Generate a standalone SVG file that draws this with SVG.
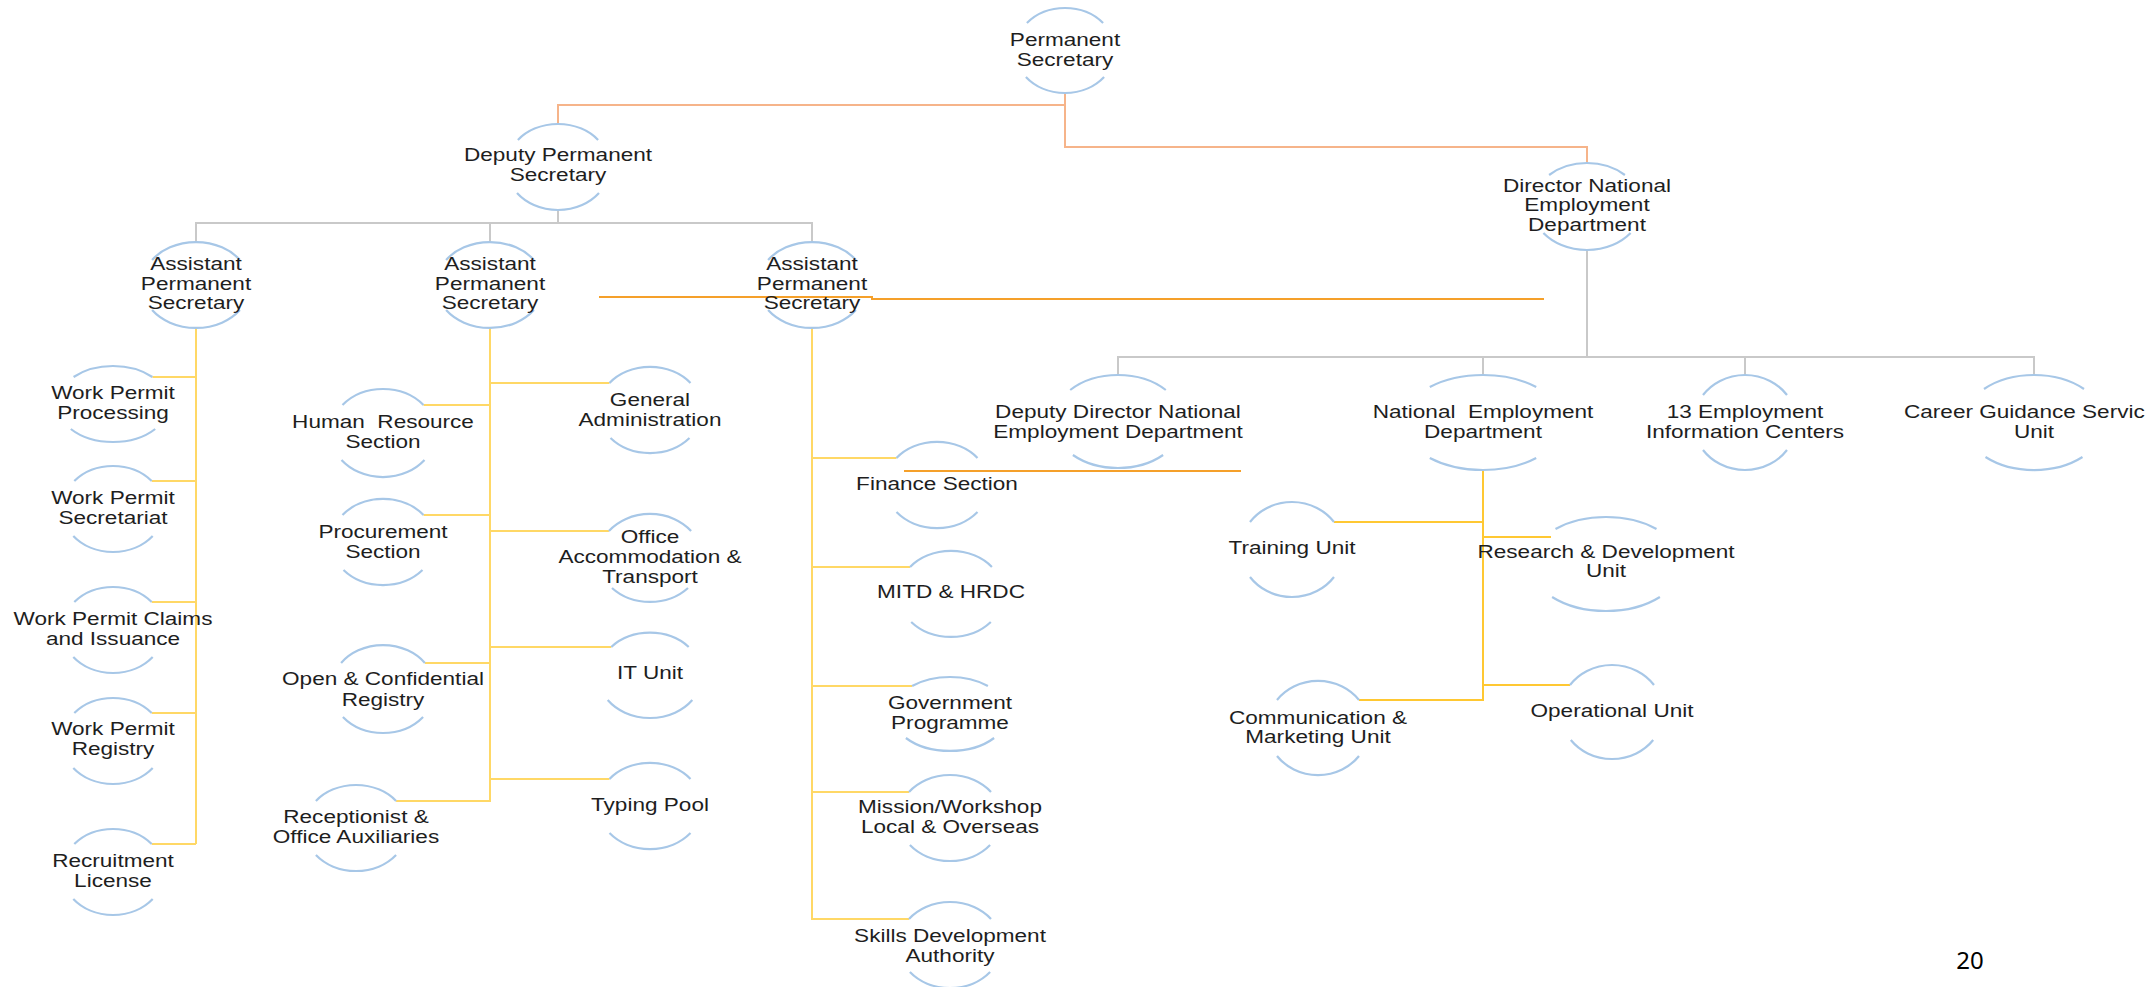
<svg xmlns="http://www.w3.org/2000/svg" width="2150" height="987" viewBox="0 0 2150 987">
<style>
.arc{fill:none;stroke:#a7c7e7;stroke-width:2.2}
.c{fill:none;stroke-width:2}
.or{stroke:#f6b48a}
.gr{stroke:#c9c9c9}
.ye{stroke:#ffd866}
.ye2{stroke:#ffc832}
.st{stroke:#f5a02a}
.t{font-family:"Liberation Sans",Arial,sans-serif;font-size:18.5px;fill:#1e1e1e;text-anchor:middle}
.ts{font-family:"Liberation Sans",Arial,sans-serif;font-size:18.5px;fill:#1e1e1e;text-anchor:start}
.num{font-family:"Noto Sans",sans-serif;font-size:24px;fill:#000;text-anchor:middle}
</style>
<rect width="2150" height="987" fill="#fff"/>
<g id="connectors">
<path class="c or" d="M1065,93 V147 H1587 V163 M1065,105 H558 V124"/>
<path class="c gr" d="M558,210 V223 M196,241 V223 H812 V241 M490,223 V241 M1587,250 V357 M1118,375 V357 H2034 V375 M1483,357 V375 M1745,357 V375"/>
<path class="c ye" d="M196,328 V844 M152.4,377 H196 M151.7,481 H196 M151.7,602 H196 M151.7,713 H196 M151.7,844 H196"/>
<path class="c ye" d="M490,328 V801 H396.1 M423.5,405 H490 M423.5,515 H490 M424.9,663 H490 M490,383 H609.5 M490,531 H608.9 M490,647 H611.3 M490,779 H609.5"/>
<path class="c ye" d="M812,328 V919 H909 M812,458 H896.5 M812,567 H910.1 M812,686 H912.1 M812,792 H909"/>
<path class="c ye2" d="M1483,470 V700 H1359 M1334,522 H1483 M1483,537 H1551 M1483,685 H1570"/>
<path class="c st" d="M599,297 H872 V299 H1544 M904,471 H1241"/>
</g>
<g id="n-ps"><path class="arc" d="M1026.9,23 A50,42.5 0 0 1 1103.1,23 M1025.9,77 A50,42.5 0 0 0 1104.1,77"/>
<text class="t" transform="translate(1065 0) scale(1.22 1)"><tspan x="0" y="46">Permanent</tspan><tspan x="0" y="66">Secretary</tspan></text></g>
<g id="n-dps"><path class="arc" d="M517.9,140 A51.5,43 0 0 1 598.1,140 M517,193 A51.5,43 0 0 0 599,193"/>
<text class="t" transform="translate(558 0) scale(1.22 1)"><tspan x="0" y="161">Deputy Permanent</tspan><tspan x="0" y="181">Secretary</tspan></text></g>
<g id="n-aps1"><path class="arc" d="M152.1,260 A54,43 0 0 1 239.9,260 M152.1,310 A54,43 0 0 0 239.9,310"/>
<text class="t" transform="translate(196 0) scale(1.22 1)"><tspan x="0" y="270">Assistant</tspan><tspan x="0" y="290">Permanent</tspan><tspan x="0" y="309">Secretary</tspan></text></g>
<g id="n-aps2"><path class="arc" d="M446.1,260 A54,43 0 0 1 533.9,260 M446.1,310 A54,43 0 0 0 533.9,310"/>
<text class="t" transform="translate(490 0) scale(1.22 1)"><tspan x="0" y="270">Assistant</tspan><tspan x="0" y="290">Permanent</tspan><tspan x="0" y="309">Secretary</tspan></text></g>
<g id="n-aps3"><path class="arc" d="M768.1,260 A54,43 0 0 1 855.9,260 M768.1,310 A54,43 0 0 0 855.9,310"/>
<text class="t" transform="translate(812 0) scale(1.22 1)"><tspan x="0" y="270">Assistant</tspan><tspan x="0" y="290">Permanent</tspan><tspan x="0" y="309">Secretary</tspan></text></g>
<g id="n-dned"><path class="arc" d="M1549.1,175 A55,43.5 0 0 1 1624.9,175 M1543.4,233 A55,43.5 0 0 0 1630.6,233"/>
<text class="t" transform="translate(1587 0) scale(1.22 1)"><tspan x="0" y="192">Director National</tspan><tspan x="0" y="211.5">Employment</tspan><tspan x="0" y="231">Department</tspan></text></g>
<g id="n-ddned"><path class="arc" d="M1070.2,390 A65,46.5 0 0 1 1165.8,390 M1072.9,455 A65,46.5 0 0 0 1163.1,455"/>
<text class="t" transform="translate(1118 0) scale(1.22 1)"><tspan x="0" y="418">Deputy Director National</tspan><tspan x="0" y="438">Employment Department</tspan></text></g>
<g id="n-ned"><path class="arc" d="M1429.8,387 A80,47.5 0 0 1 1536.2,387 M1429.8,458 A80,47.5 0 0 0 1536.2,458"/>
<text class="t" xml:space="preserve" transform="translate(1483 0) scale(1.22 1)"><tspan x="0" y="418">National  Employment</tspan><tspan x="0" y="438">Department</tspan></text></g>
<g id="n-eic"><path class="arc" d="M1703,395 A51.5,47.5 0 0 1 1787,395 M1703,450 A51.5,47.5 0 0 0 1787,450"/>
<text class="t" transform="translate(1745 0) scale(1.22 1)"><tspan x="0" y="418">13 Employment</tspan><tspan x="0" y="438">Information Centers</tspan></text></g>
<g id="n-cgsu"><path class="arc" d="M1984,389 A70.5,47.5 0 0 1 2084,389 M1985.5,457 A70.5,47.5 0 0 0 2082.5,457"/>
<text class="ts" transform="translate(1904 0) scale(1.22 1)"><tspan x="0" y="418">Career Guidance Servic</tspan></text>
<text class="t" transform="translate(2034 0) scale(1.22 1)"><tspan x="0" y="438">Unit</tspan></text></g>
<g id="n-wpp"><path class="arc" d="M73.6,377 A56,38 0 0 1 152.4,377 M70.8,429 A56,38 0 0 0 155.2,429"/>
<text class="t" transform="translate(113 0) scale(1.22 1)"><tspan x="0" y="399">Work Permit</tspan><tspan x="0" y="419">Processing</tspan></text></g>
<g id="n-wps"><path class="arc" d="M74.3,481 A51,43 0 0 1 151.7,481 M73.3,536 A51,43 0 0 0 152.7,536"/>
<text class="t" transform="translate(113 0) scale(1.22 1)"><tspan x="0" y="504">Work Permit</tspan><tspan x="0" y="524">Secretariat</tspan></text></g>
<g id="n-wpci"><path class="arc" d="M74.3,602 A51,43 0 0 1 151.7,602 M73.3,657 A51,43 0 0 0 152.7,657"/>
<text class="t" transform="translate(113 0) scale(1.22 1)"><tspan x="0" y="625">Work Permit Claims</tspan><tspan x="0" y="645">and Issuance</tspan></text></g>
<g id="n-wpr"><path class="arc" d="M74.3,713 A51,43 0 0 1 151.7,713 M73.3,768 A51,43 0 0 0 152.7,768"/>
<text class="t" transform="translate(113 0) scale(1.22 1)"><tspan x="0" y="735">Work Permit</tspan><tspan x="0" y="755">Registry</tspan></text></g>
<g id="n-rl"><path class="arc" d="M74.3,844 A51,43 0 0 1 151.7,844 M73.3,899 A51,43 0 0 0 152.7,899"/>
<text class="t" transform="translate(113 0) scale(1.22 1)"><tspan x="0" y="867">Recruitment</tspan><tspan x="0" y="887">License</tspan></text></g>
<g id="n-hrs"><path class="arc" d="M342.5,405 A52.5,44 0 0 1 423.5,405 M341.5,460 A52.5,44 0 0 0 424.5,460"/>
<text class="t" xml:space="preserve" transform="translate(383 0) scale(1.22 1)"><tspan x="0" y="428">Human  Resource</tspan><tspan x="0" y="448">Section</tspan></text></g>
<g id="n-prs"><path class="arc" d="M342.5,515 A52,43 0 0 1 423.5,515 M343.5,570 A52,43 0 0 0 422.5,570"/>
<text class="t" transform="translate(383 0) scale(1.22 1)"><tspan x="0" y="538">Procurement</tspan><tspan x="0" y="558">Section</tspan></text></g>
<g id="n-ocr"><path class="arc" d="M341.1,663 A52,44 0 0 1 424.9,663 M342.9,717 A52,44 0 0 0 423.1,717"/>
<text class="t" transform="translate(383 0) scale(1.22 1)"><tspan x="0" y="685">Open &amp; Confidential</tspan><tspan x="0" y="706">Registry</tspan></text></g>
<g id="n-roa"><path class="arc" d="M315.9,801 A51.5,43 0 0 1 396.1,801 M315.9,855 A51.5,43 0 0 0 396.1,855"/>
<text class="t" transform="translate(356 0) scale(1.22 1)"><tspan x="0" y="823">Receptionist &amp;</tspan><tspan x="0" y="843">Office Auxiliaries</tspan></text></g>
<g id="n-ga"><path class="arc" d="M609.5,383 A52,43 0 0 1 690.5,383 M610.5,438 A52,43 0 0 0 689.5,438"/>
<text class="t" transform="translate(650 0) scale(1.22 1)"><tspan x="0" y="406">General</tspan><tspan x="0" y="426">Administration</tspan></text></g>
<g id="n-oat"><path class="arc" d="M608.9,531 A52,44 0 0 1 691.1,531 M612,588 A52,44 0 0 0 688,588"/>
<text class="t" transform="translate(650 0) scale(1.22 1)"><tspan x="0" y="543">Office</tspan><tspan x="0" y="563">Accommodation &amp;</tspan><tspan x="0" y="583">Transport</tspan></text></g>
<g id="n-it"><path class="arc" d="M611.3,647 A52,43 0 0 1 688.7,647 M607.7,700 A52,43 0 0 0 692.3,700"/>
<text class="t" transform="translate(650 0) scale(1.22 1)"><tspan x="0" y="679">IT Unit</tspan></text></g>
<g id="n-tp"><path class="arc" d="M609.5,779 A52,43 0 0 1 690.5,779 M609.5,833 A52,43 0 0 0 690.5,833"/>
<text class="t" transform="translate(650 0) scale(1.22 1)"><tspan x="0" y="811">Typing Pool</tspan></text></g>
<g id="n-fs"><path class="arc" d="M896.5,458 A52,43 0 0 1 977.5,458 M896.5,512 A52,43 0 0 0 977.5,512"/>
<text class="t" transform="translate(937 0) scale(1.22 1)"><tspan x="0" y="490">Finance Section</tspan></text></g>
<g id="n-mitd"><path class="arc" d="M910.1,567 A52.5,43 0 0 1 991.9,567 M911.2,622 A52.5,43 0 0 0 990.8,622"/>
<text class="t" transform="translate(951 0) scale(1.22 1)"><tspan x="0" y="598">MITD &amp; HRDC</tspan></text></g>
<g id="n-gp"><path class="arc" d="M912.1,686 A58,37 0 0 1 987.9,686 M905.9,738 A58,37 0 0 0 994.1,738"/>
<text class="t" transform="translate(950 0) scale(1.22 1)"><tspan x="0" y="709">Government</tspan><tspan x="0" y="729">Programme</tspan></text></g>
<g id="n-mwlo"><path class="arc" d="M909,792 A51.5,43 0 0 1 991,792 M909.9,845 A51.5,43 0 0 0 990.1,845"/>
<text class="t" transform="translate(950 0) scale(1.22 1)"><tspan x="0" y="813">Mission/Workshop</tspan><tspan x="0" y="833">Local &amp; Overseas</tspan></text></g>
<g id="n-sda"><path class="arc" d="M909,919 A51.5,43 0 0 1 991,919 M909.9,972 A51.5,43 0 0 0 990.1,972"/>
<text class="t" transform="translate(950 0) scale(1.22 1)"><tspan x="0" y="942">Skills Development</tspan><tspan x="0" y="962">Authority</tspan></text></g>
<g id="n-tu"><path class="arc" d="M1250,522 A51.5,47.5 0 0 1 1334,522 M1250,577 A51.5,47.5 0 0 0 1334,577"/>
<text class="t" transform="translate(1292 0) scale(1.22 1)"><tspan x="0" y="554">Training Unit</tspan></text></g>
<g id="n-rdu"><path class="arc" d="M1555.5,529 A75.7,47 0 0 1 1656.5,529 M1552.1,597 A75.7,47 0 0 0 1659.9,597"/>
<text class="t" transform="translate(1606 0) scale(1.22 1)"><tspan x="0" y="558">Research &amp; Development</tspan><tspan x="0" y="577">Unit</tspan></text></g>
<g id="n-cmu"><path class="arc" d="M1277,700 A51,47 0 0 1 1359,700 M1277,756 A51,47 0 0 0 1359,756"/>
<text class="t" transform="translate(1318 0) scale(1.22 1)"><tspan x="0" y="724">Communication &amp;</tspan><tspan x="0" y="743">Marketing Unit</tspan></text></g>
<g id="n-ou"><path class="arc" d="M1570,685 A51.3,47 0 0 1 1654,685 M1570.8,740 A51.3,47 0 0 0 1653.2,740"/>
<text class="t" transform="translate(1612 0) scale(1.22 1)"><tspan x="0" y="717">Operational Unit</tspan></text></g>
<text class="num" x="1970" y="969">20</text>
</svg>
